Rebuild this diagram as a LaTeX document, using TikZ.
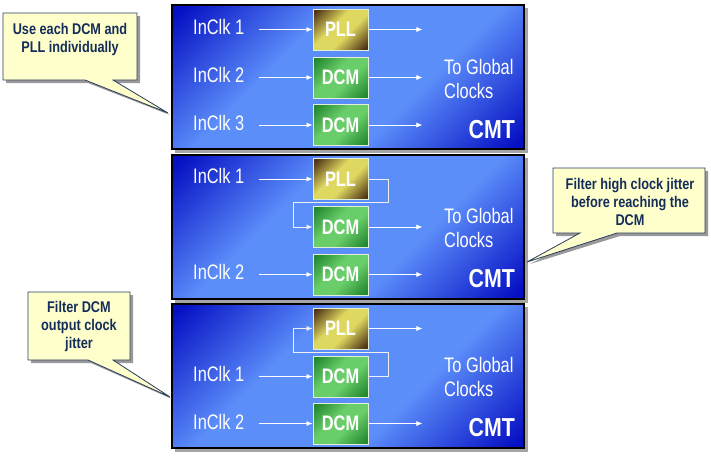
\documentclass[tikz,border=0pt]{standalone}
\usepackage{fontspec}
\setmainfont{Liberation Sans}
\newfontfamily\nf{Liberation Sans}[FakeStretch=0.78]
\newfontfamily\cf{Liberation Sans}[FakeStretch=0.82]
\usetikzlibrary{arrows.meta,calc}
\definecolor{pdark}{RGB}{5,15,195}
\definecolor{plight}{RGB}{92,142,250}
\definecolor{pbrown}{RGB}{80,52,22}
\definecolor{pyellow}{RGB}{222,216,96}
\definecolor{gdark}{RGB}{35,135,48}
\definecolor{glight}{RGB}{105,205,105}
\definecolor{boxedge}{RGB}{225,240,215}
\definecolor{cfill}{RGB}{255,255,204}
\definecolor{cedge}{RGB}{40,60,95}
\definecolor{ctext}{RGB}{20,45,90}
\definecolor{shadowgray}{RGB}{165,165,165}
\pgfdeclareverticalshading{panelshade}{100bp}{color(0bp)=(pdark); color(16bp)=(pdark); color(38bp)=(plight); color(62bp)=(plight); color(84bp)=(pdark); color(100bp)=(pdark)}
\pgfdeclareverticalshading{pllshade}{100bp}{color(0bp)=(pbrown); color(18bp)=(pbrown); color(42bp)=(pyellow); color(58bp)=(pyellow); color(82bp)=(pbrown); color(100bp)=(pbrown)}
\pgfdeclareverticalshading{dcmshade}{100bp}{color(0bp)=(gdark); color(18bp)=(gdark); color(42bp)=(glight); color(58bp)=(glight); color(82bp)=(gdark); color(100bp)=(gdark)}
\begin{document}
\begin{tikzpicture}[x=1pt,y=-1pt,
  panel/.style={draw=black, line width=1.3pt, shading=panelshade, shading angle=45},
  pshadow/.style={fill=shadowgray, draw=none},
  blk/.style={minimum width=55pt, minimum height=41pt, draw=boxedge, line width=0.9pt, inner sep=0pt, font=\nf\bfseries\fontsize{21}{24}\selectfont, text=white},
  pll/.style={blk, shading=pllshade, shading angle=45},
  dcm/.style={blk, shading=dcmshade, shading angle=45},
  lbl/.style={text=white, font=\nf\fontsize{21}{24}\selectfont, inner sep=0pt},
  cmt/.style={text=white, font=\cf\bfseries\fontsize{26}{28}\selectfont, inner sep=0pt, anchor=base east},
  sig/.style={draw=white, line width=0.8pt, -{Latex[length=6pt,width=5pt]}},
  fbk/.style={draw=white!88!gray, line width=0.8pt, -{Latex[length=6pt,width=5pt]}},
  callout/.style={fill=cfill, draw=cedge, line width=0.8pt, line join=miter},
  cshadow/.style={fill=gray!80, draw=none},
  ctxt/.style={text=ctext, font=\cf\bfseries\fontsize{15.5}{18}\selectfont, align=center, inner sep=0pt, anchor=base}
]
\useasboundingbox (0,0) rectangle (711,455);

% ---------- panels ----------
\fill[pshadow] (175,8) rectangle (528,153);
\shade[panel] (172,5) rectangle (524,149);
\fill[pshadow] (175,158) rectangle (528,303);
\shade[panel] (172,155) rectangle (524,299);
\fill[pshadow] (175,307) rectangle (528,452);
\shade[panel] (172,304) rectangle (524,448);

% ---------- panel 1 ----------
\node[pll] (p1pll) at (340.5,29.5) {PLL};
\node[dcm] (p1d1) at (340.5,77.5) {DCM};
\node[dcm] (p1d2) at (340.5,125) {DCM};
\node[lbl, anchor=base west] (p1l1) at (193,34) {InClk 1};
\node[lbl, anchor=base west] (p1l2) at (193,82) {InClk 2};
\node[lbl, anchor=base west] (p1l3) at (193,130) {InClk 3};
\coordinate (p1i1) at ([xshift=-54pt]p1pll.west);
\coordinate (p1i2) at ([xshift=-54pt]p1d1.west);
\coordinate (p1i3) at ([xshift=-54pt]p1d2.west);
\coordinate (p1o1) at ([xshift=54pt]p1pll.east);
\coordinate (p1o2) at ([xshift=54pt]p1d1.east);
\coordinate (p1o3) at ([xshift=54pt]p1d2.east);
\draw[sig] (p1i1) -- (p1pll.west);
\draw[sig] (p1i2) -- (p1d1.west);
\draw[sig] (p1i3) -- (p1d2.west);
\draw[sig] (p1pll.east) -- (p1o1);
\draw[sig] (p1d1.east) -- (p1o2);
\draw[sig] (p1d2.east) -- (p1o3);
\node[lbl, anchor=base west, align=left] (p1g) at (444,98) {To Global\\Clocks};
\node[cmt] (p1c) at (515,138) {CMT};

% ---------- panel 2 ----------
\node[pll] (p2pll) at (340.5,179) {PLL};
\node[dcm] (p2d1) at (340.5,227) {DCM};
\node[dcm] (p2d2) at (340.5,274.5) {DCM};
\node[lbl, anchor=base west] (p2l1) at (193,183) {InClk 1};
\node[lbl, anchor=base west] (p2l2) at (193,279) {InClk 2};
\coordinate (p2i1) at ([xshift=-54pt]p2pll.west);
\coordinate (p2i2) at ([xshift=-54pt]p2d2.west);
\coordinate (p2o1) at ([xshift=54pt]p2d1.east);
\coordinate (p2o2) at ([xshift=54pt]p2d2.east);
\coordinate (p2fa) at (388,202);
\coordinate (p2fb) at (293,202);
\draw[sig] (p2i1) -- (p2pll.west);
\draw[sig] (p2i2) -- (p2d2.west);
\draw[fbk] (p2pll.east) -| (p2fa) -- (p2fb) |- (p2d1.west);
\draw[sig] (p2d1.east) -- (p2o1);
\draw[sig] (p2d2.east) -- (p2o2);
\node[lbl, anchor=base west, align=left] (p2g) at (444,247) {To Global\\Clocks};
\node[cmt] (p2c) at (515,287) {CMT};

% ---------- panel 3 ----------
\node[pll] (p3pll) at (340.5,328.5) {PLL};
\node[dcm] (p3d1) at (340.5,376.5) {DCM};
\node[dcm] (p3d2) at (340.5,423.5) {DCM};
\node[lbl, anchor=base west] (p3l1) at (193,381) {InClk 1};
\node[lbl, anchor=base west] (p3l2) at (193,429) {InClk 2};
\coordinate (p3i1) at ([xshift=-54pt]p3d1.west);
\coordinate (p3i2) at ([xshift=-54pt]p3d2.west);
\coordinate (p3o1) at ([xshift=54pt]p3pll.east);
\coordinate (p3o2) at ([xshift=54pt]p3d2.east);
\coordinate (p3fa) at (388,352);
\coordinate (p3fb) at (293,352);
\draw[sig] (p3i1) -- (p3d1.west);
\draw[sig] (p3i2) -- (p3d2.west);
\draw[fbk] (p3d1.east) -| (p3fa) -- (p3fb) |- (p3pll.west);
\draw[sig] (p3pll.east) -- (p3o1);
\draw[sig] (p3d2.east) -- (p3o2);
\node[lbl, anchor=base west, align=left] (p3g) at (444,396) {To Global\\Clocks};
\node[cmt] (p3c) at (515,436) {CMT};

% ---------- callouts ----------
\fill[cshadow] (6,16) -- (140,16) -- (140,83) -- (116,83) -- (170,115) -- (88,83) -- (6,83) -- cycle;
\draw[callout] (3,13) -- (137,13) -- (137,80) -- (113,80) -- (168,113) -- (85,80) -- (3,80) -- cycle;
\node[ctxt] (c1) at (70,52) {Use each DCM and\\PLL individually};

\fill[cshadow] (556,171) -- (708,171) -- (708,236) -- (620,236) -- (530,264) -- (583,236) -- (556,236) -- cycle;
\draw[callout] (553,168) -- (705,168) -- (705,233) -- (617,233) -- (527,262) -- (580,233) -- (553,233) -- cycle;
\node[ctxt] (c2) at (630,225) {Filter high clock jitter\\before reaching the\\DCM};

\fill[cshadow] (31,295) -- (133,295) -- (133,363) -- (116,363) -- (172,399) -- (91,363) -- (31,363) -- cycle;
\draw[callout] (28,292) -- (130,292) -- (130,360) -- (113,360) -- (170,397) -- (88,360) -- (28,360) -- cycle;
\node[ctxt] (c3) at (79,348) {Filter DCM\\output clock\\jitter};
\end{tikzpicture}
\end{document}
